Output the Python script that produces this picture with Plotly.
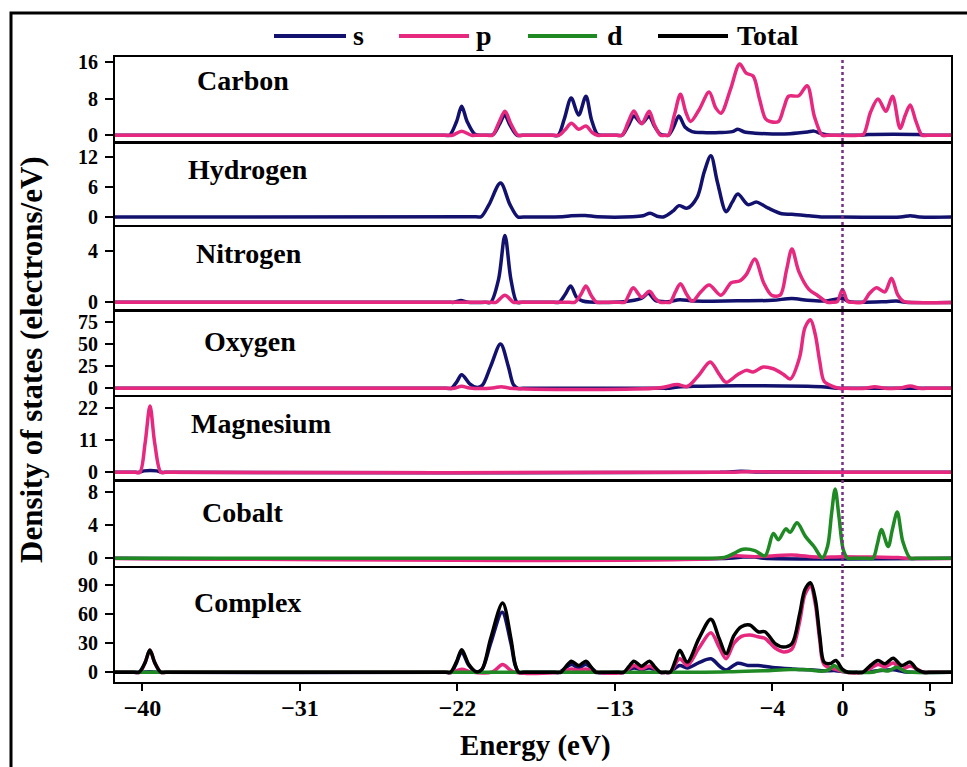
import plotly.graph_objects as go

# ---- colours / fonts -------------------------------------------------------
S_COLOR = "#12126e"
P_COLOR = "#e6287f"
D_COLOR = "#1f8a24"
T_COLOR = "#000000"
FERMI_COLOR = "#7a2f86"
FONT = "Liberation Serif, Times New Roman, Times, serif"

ORBITAL_COLORS = {"s": S_COLOR, "p": P_COLOR, "d": D_COLOR, "Total": T_COLOR}

# ---- axis ticks ------------------------------------------------------------
energy_ticks = [-40, -31, -22, -13, -4, 0, 5]
energy_range = [-41.57, 6.2]

# ---- partial density of states: (energy eV, DOS electrons/eV) ---------------
carbon_s = [(-42, 0), (-22.75, 0), (-22.45, 0), (-22.05, 3.0), (-21.76, 6.3), (-21.45, 3.0),
            (-21.0, 0.2), (-20.6, 0), (-20.25, 0), (-19.95, 0.2), (-19.6, 2.4), (-19.3, 4.4),
            (-19.0, 2.2), (-18.6, 0), (-18.3, 0), (-16.6, 0), (-16.25, 0), (-15.9, 3.5),
            (-15.5, 8.1), (-15.08, 4.4), (-14.66, 8.5), (-14.35, 3.5), (-14.0, 0.2), (-13.7, 0),
            (-12.9, 0), (-12.6, 0), (-12.2, 2.4), (-11.92, 4.2), (-11.48, 2.6), (-11.05, 4.1),
            (-10.75, 2.0), (-10.4, 0.2), (-10.1, 0), (-9.95, 0), (-9.65, 1.8), (-9.35, 4.2),
            (-9.0, 1.8), (-8.6, 0.8), (-8.0, 0.6), (-7.0, 0.6), (-6.3, 0.8), (-5.98, 1.3),
            (-5.6, 0.7), (-5.0, 0.45), (-4.0, 0.3), (-3.0, 0.35), (-2.0, 0.7), (-1.63, 0.9),
            (-1.25, 0.4), (-0.8, 0.05), (-0.4, 0), (0.9, 0), (1.2, 0.05), (1.5, 0.15),
            (4.3, 0.15), (4.6, 0.05), (4.9, 0), (6.5, 0)]
carbon_p = [(-42, 0), (-22.6, 0), (-22.3, 0), (-21.76, 0.9), (-21.2, 0), (-20.9, 0), (-20.3, 0),
            (-20.0, 0), (-19.65, 2.6), (-19.29, 5.2), (-18.95, 2.5), (-18.55, 0), (-18.25, 0),
            (-16.5, 0), (-16.2, 0), (-15.85, 1.2), (-15.49, 2.6), (-15.08, 1.3), (-14.66, 2.0),
            (-14.3, 0.6), (-14.0, 0), (-13.7, 0), (-12.9, 0), (-12.6, 0), (-12.25, 2.8),
            (-11.92, 5.3), (-11.48, 2.5), (-11.05, 5.2), (-10.75, 2.3), (-10.4, 0), (-10.15, 0),
            (-9.95, 0), (-9.6, 4.5), (-9.26, 8.9), (-8.95, 5.0), (-8.68, 3.0), (-8.2, 5.5),
            (-7.62, 9.4), (-7.25, 6.0), (-6.94, 4.8), (-6.4, 10.0), (-5.88, 15.5), (-5.5, 13.5),
            (-5.11, 12.9), (-4.75, 8.0), (-4.4, 3.6), (-4.14, 3.0), (-3.66, 3.0), (-3.35, 6.0),
            (-3.08, 8.5), (-2.5, 8.6), (-2.02, 10.8), (-1.6, 4.0), (-1.15, 0), (-0.85, 0),
            (0.9, 0), (1.2, 0.2), (1.6, 5.0), (2.03, 7.9), (2.48, 5.2), (2.86, 8.5), (3.29, 1.5),
            (3.6, 4.5), (3.87, 6.6), (4.2, 3.0), (4.55, 0), (4.85, 0), (6.5, 0)]

hydrogen_s = [(-42, 0.05), (-20.95, 0.1), (-20.65, 0.1), (-20.2, 2.5), (-19.54, 6.8), (-19.0, 2.5),
              (-18.55, 0.05), (-18.25, 0.05), (-16.0, 0.1), (-15.5, 0.3), (-14.7, 0.35),
              (-14.0, 0.1), (-12.0, 0.1), (-11.4, 0.3), (-10.99, 0.8), (-10.6, 0.2), (-10.2, 0.1),
              (-9.7, 1.2), (-9.35, 2.3), (-8.87, 1.8), (-8.3, 4.0), (-7.9, 9.0), (-7.52, 12.2),
              (-7.15, 7.0), (-6.65, 1.1), (-6.3, 3.0), (-5.98, 4.6), (-5.4, 2.5), (-4.91, 3.0),
              (-4.24, 1.8), (-3.47, 0.7), (-2.89, 0.6), (-1.92, 0.3), (-1.15, 0.05), (-0.8, 0.05),
              (3.3, 0.05), (3.87, 0.3), (4.4, 0.05), (6.5, 0.05)]

nitrogen_s = [(-42, 0), (-22.5, 0), (-22.2, 0), (-21.8, 0.13), (-21.4, 0), (-20.4, 0), (-20.1, 0),
              (-19.65, 1.8), (-19.29, 5.19), (-18.95, 1.8), (-18.6, 0), (-18.3, 0), (-16.5, 0),
              (-16.2, 0), (-15.85, 0.6), (-15.53, 1.26), (-15.2, 0.4), (-14.85, 0.1),
              (-12.5, 0.05), (-11.5, 0.3), (-11.09, 0.7), (-10.7, 0.15), (-10.0, 0.05),
              (-9.3, 0.2), (-8.5, 0.1), (-6.0, 0.12), (-4.0, 0.15), (-2.89, 0.3), (-2.0, 0.15),
              (-1.0, 0.1), (0.0, 0.3), (0.4, 0.05), (2.5, 0.05), (3.09, 0.1), (3.6, 0), (6.5, 0)]
nitrogen_p = [(-42, 0), (-20.1, 0), (-19.8, 0), (-19.29, 0.55), (-18.8, 0), (-18.5, 0),
              (-15.6, 0), (-15.3, 0), (-14.95, 0.6), (-14.66, 1.26), (-14.35, 0.5), (-14.05, 0),
              (-13.75, 0), (-12.75, 0), (-12.45, 0), (-12.2, 0.6), (-11.96, 1.13), (-11.48, 0.4),
              (-11.03, 0.86), (-10.7, 0.3), (-10.4, 0), (-10.1, 0), (-9.85, 0), (-9.55, 0.8),
              (-9.26, 1.44), (-8.9, 0.6), (-8.58, 0.08), (-8.1, 0.8), (-7.62, 1.34),
              (-6.94, 0.55), (-6.36, 1.52), (-5.88, 1.65), (-5.49, 2.17), (-5.01, 3.35),
              (-4.5, 1.5), (-4.05, 0.55), (-3.56, 0.55), (-3.2, 2.5), (-2.89, 4.14), (-2.5, 2.4),
              (-1.92, 1.0), (-1.44, 0.55), (-0.86, 0), (-0.6, 0), (-0.3, 0.05), (0.0, 1.0),
              (0.3, 0.05), (0.6, 0), (1.16, 0), (1.55, 0.7), (1.94, 1.13), (2.42, 0.81),
              (2.80, 1.86), (3.15, 0.6), (3.48, 0.08), (3.8, 0), (6.5, 0)]

oxygen_s = [(-42, 0), (-22.65, 0), (-22.35, 0), (-22.05, 7), (-21.76, 15.2), (-21.3, 5),
            (-20.93, 1.1), (-20.6, 3), (-20.1, 25), (-19.54, 49.8), (-19.1, 25), (-18.8, 4),
            (-18.55, 0), (-18.25, 0), (-10.3, 0), (-10.0, 0), (-9.4, 1.5), (-8.5, 2.3),
            (-6.0, 3.0), (-4.5, 3.0), (-2.0, 2.3), (-1.0, 1.5), (-0.2, 0), (0.2, 0), (6.5, 0)]
oxygen_p = [(-42, 0), (-22.5, 0), (-22.2, 0), (-21.76, 2.3), (-21.3, 0.3), (-20.0, 0.3),
            (-19.5, 1.9), (-19.0, 0.2), (-10.5, 0.3), (-9.45, 4.2), (-8.87, 2.0), (-8.2, 15.0),
            (-7.56, 29.7), (-7.05, 16.0), (-6.65, 6.8), (-5.98, 15.6), (-5.49, 20.2),
            (-5.11, 18.3), (-4.53, 24.0), (-3.95, 22.0), (-3.37, 15.6), (-2.98, 10.6),
            (-2.45, 35), (-2.15, 68), (-1.83, 77.2), (-1.55, 60), (-1.3, 30), (-1.05, 8),
            (-0.6, 2.5), (-0.19, 0), (0.2, 0), (1.3, 0), (1.84, 1.9), (2.4, 0.2), (3.3, 0.3),
            (3.87, 2.7), (4.4, 0), (4.8, 0), (6.5, 0)]

magnesium_s = [(-42, 0), (-40.5, 0), (-40.2, 0), (-39.9, 0.5), (-39.2, 0.5), (-38.9, 0),
               (-38.6, 0), (-7.0, 0), (-5.8, 0.35), (-5.0, 0.15), (-3.0, 0.1), (-1.0, 0), (6.5, 0)]
magnesium_p = [(-42, 0), (-40.45, 0), (-40.15, 0), (-39.85, 10), (-39.57, 22.8), (-39.3, 10),
               (-38.95, 0), (-38.65, 0), (-6.5, 0), (-5.5, 0.2), (-3.0, 0.1), (-1.0, 0), (6.5, 0)]

cobalt_s = [(-42, 0), (-6.5, 0), (-5.7, 0.15), (-5.0, 0.15), (-4.5, 0), (6.5, 0)]
cobalt_p = [(-42, 0), (-7.0, 0), (-6.17, 0.3), (-5.0, 0.2), (-2.89, 0.4), (-1.5, 0.15),
            (0.0, 0.2), (1.8, 0.15), (3.2, 0.1), (3.8, 0), (6.5, 0)]
cobalt_d = [(-42, 0), (-20, 0.02), (-8.7, 0.02), (-6.75, 0.12), (-6.2, 0.6), (-5.69, 1.1),
            (-5.01, 0.94), (-4.43, 0.3), (-3.95, 3.0), (-3.66, 2.25), (-3.24, 3.57),
            (-2.99, 3.16), (-2.6, 4.3), (-2.12, 2.66), (-1.63, 1.43), (-1.15, 0.05),
            (-0.85, 1.5), (-0.62, 5.5), (-0.42, 8.4), (-0.2, 5.0), (0.05, 1.0), (0.3, 0),
            (0.6, 0), (1.45, 0), (1.74, 0), (2.0, 1.8), (2.22, 3.48), (2.61, 1.43), (2.85, 3.5),
            (3.13, 5.6), (3.45, 2.0), (3.87, 0), (4.2, 0), (6.5, 0)]

complex_s = [(-42, 0), (-40.4, 0), (-40.1, 0), (-39.6, 0.5), (-39.0, 0), (-22.65, 0), (-22.35, 0),
             (-22.05, 10), (-21.76, 21), (-21.35, 7), (-20.93, 0.5), (-20.6, 3), (-20.1, 30),
             (-19.45, 62), (-18.95, 30), (-18.7, 7), (-18.5, 0), (-18.2, 0), (-16.5, 0),
             (-16.2, 0), (-15.49, 8), (-15.08, 4.5), (-14.66, 8), (-14.0, 0), (-12.8, 0),
             (-12.5, 0), (-11.92, 4.5), (-11.48, 2.8), (-11.03, 4.5), (-10.4, 0), (-10.15, 0),
             (-9.9, 0), (-9.3, 7), (-8.87, 4.5), (-8.2, 10), (-7.52, 13.9), (-7.0, 6),
             (-6.65, 2.4), (-5.98, 9.4), (-5.4, 7), (-4.82, 7), (-4.0, 5), (-2.89, 3.5),
             (-1.83, 2.5), (-1.0, 1.5), (-0.4, 1.7), (0.2, 0.3), (1.2, 0), (2.0, 1.5), (2.9, 2.5),
             (3.5, 0.5), (4.2, 0), (6.5, 0)]
complex_p = [(-42, 0), (-40.45, 0), (-40.15, 0), (-39.85, 10), (-39.57, 22.8), (-39.3, 10),
             (-38.95, 0), (-38.65, 0), (-22.6, 0), (-22.3, 0), (-21.76, 3.2), (-21.2, 0.3),
             (-20.0, 0.5), (-19.42, 8.0), (-18.8, 0.5), (-16.2, 0), (-15.49, 3.5), (-15.08, 2),
             (-14.66, 3.5), (-14.0, 0), (-12.5, 0), (-11.92, 7), (-11.48, 3.5), (-11.03, 6.5),
             (-10.4, 0), (-10.1, 0), (-9.85, 0), (-9.3, 14), (-8.87, 7), (-8.2, 25),
             (-7.52, 40.8), (-7.05, 26), (-6.65, 14), (-6.2, 30), (-5.78, 37), (-5.3, 38.5),
             (-4.82, 36.6), (-4.43, 35), (-3.85, 25), (-3.37, 21), (-2.89, 24), (-2.45, 52),
             (-2.15, 80), (-1.83, 88.8), (-1.55, 70), (-1.3, 33), (-1.05, 8), (-0.38, 3),
             (0.2, 0), (1.16, 0), (2.03, 8), (2.42, 5.5), (2.9, 9.5), (3.38, 3), (3.87, 6.6),
             (4.6, 0), (4.9, 0), (6.5, 0)]
complex_d = [(-42, 0), (-8.5, 0), (-6.5, 0.5), (-5.5, 1.2), (-4.5, 1.5), (-3.0, 2.8),
             (-2.0, 2.5), (-1.2, 1.0), (-0.8, 2.5), (-0.48, 7), (-0.15, 3), (0.2, 0.3), (0.5, 0),
             (1.7, 0), (2.2, 2.4), (2.6, 1.4), (3.1, 5.2), (3.6, 0.8), (4.0, 0), (6.5, 0)]
complex_total = [(-42, 0), (-40.5, 0), (-40.2, 0), (-39.85, 10), (-39.58, 23), (-39.3, 10),
                 (-38.95, 0), (-38.65, 0), (-22.7, 0), (-22.4, 0), (-22.05, 11), (-21.76, 23.3),
                 (-21.35, 8), (-20.93, 0.5), (-20.6, 3), (-20.1, 35), (-19.42, 71.4),
                 (-18.95, 35), (-18.7, 8), (-18.5, 0), (-18.2, 0), (-16.4, 0), (-16.1, 0),
                 (-15.8, 6), (-15.49, 11.5), (-15.08, 7), (-14.66, 11.5), (-14.35, 5),
                 (-14.1, 0), (-13.8, 0), (-12.8, 0), (-12.5, 0), (-12.2, 6), (-11.92, 11.5),
                 (-11.48, 6.3), (-11.03, 11.5), (-10.7, 5), (-10.4, 0), (-10.1, 0), (-9.85, 0),
                 (-9.55, 12), (-9.3, 22.6), (-8.87, 10.5), (-8.2, 35), (-7.52, 54.7),
                 (-7.05, 35), (-6.65, 19.2), (-6.2, 38), (-5.78, 47), (-5.3, 48.8),
                 (-4.82, 41.8), (-4.43, 41.8), (-3.85, 29.6), (-3.37, 26.1), (-2.89, 29.6),
                 (-2.45, 60), (-2.15, 85), (-1.83, 92.3), (-1.55, 75), (-1.3, 38), (-1.05, 10.5),
                 (-0.7, 9), (-0.38, 12.2), (0.0, 3), (0.3, 0), (0.8, 0), (1.16, 0), (1.6, 7),
                 (2.03, 12.2), (2.42, 8.7), (2.9, 14.6), (3.38, 7), (3.87, 10.5), (4.25, 3),
                 (4.64, 0), (4.95, 0), (6.5, 0)]

# ---- panel definitions: label, series, y range, y ticks -----------------------
panels = [
    ("Carbon", [("s", carbon_s), ("p", carbon_p)], [-1.14, 17.03], [0, 8, 16]),
    ("Hydrogen", [("s", hydrogen_s)], [-1.47, 14.61], [0, 6, 12]),
    ("Nitrogen", [("s", nitrogen_s), ("p", nitrogen_p)], [-0.52, 5.84], [0, 4]),
    ("Oxygen", [("s", oxygen_s), ("p", oxygen_p)], [-7.5, 86.2], [0, 25, 50, 75]),
    ("Magnesium", [("s", magnesium_s), ("p", magnesium_p)], [-2.3, 25.9], [0, 11, 22]),
    ("Cobalt", [("s", cobalt_s), ("p", cobalt_p), ("d", cobalt_d)], [-0.93, 9.31], [0, 4, 8]),
    ("Complex", [("s", complex_s), ("p", complex_p), ("d", complex_d), ("Total", complex_total)],
     [-10.0, 107.5], [0, 30, 60, 90]),
]

# ---- page geometry (pixels) ---------------------------------------------------
W_FIG, H_FIG = 967, 767
M_L, M_R, M_T, M_B = 115, 16, 57, 85
PLOT_W = W_FIG - M_L - M_R
PLOT_H = H_FIG - M_T - M_B
PLOT_BOTTOM = H_FIG - M_B


def xp(px):
    return (px - M_L) / PLOT_W


def yp(py):
    return (PLOT_BOTTOM - py) / PLOT_H


panel_edges = [(57, 140.5), (143.5, 224.7), (227, 309), (311.7, 395), (397, 479),
               (481.5, 566), (568, 682)]
label_pos = [(243, 80), (248, 170), (249, 253), (250, 341), (261, 423), (243, 512), (247, 602)]

fig = go.Figure()
n = len(panels)
axis_font = dict(family=FONT, size=20, color="black", weight="bold")

for i, (name, series, yrange, yticks) in enumerate(panels):
    k = i + 1
    xa = "x" if k == 1 else f"x{k}"
    ya = "y" if k == 1 else f"y{k}"
    for orb, pts in series:
        fig.add_trace(go.Scatter(
            x=[p[0] for p in pts], y=[p[1] for p in pts],
            mode="lines", line=dict(color=ORBITAL_COLORS[orb], width=3.5, shape="spline",
                                    smoothing=0.9),
            xaxis=xa, yaxis=ya, showlegend=False, hoverinfo="skip"))
    top, bottom = panel_edges[i]
    is_bottom = (k == n)
    fig.layout[f"xaxis{'' if k == 1 else k}"] = dict(
        domain=[0, 1], anchor=ya, range=energy_range,
        matches=None if k == n else f"x{n}",
        showline=True, mirror=True, linecolor="black", linewidth=2,
        showgrid=False, zeroline=False,
        tickmode="array", tickvals=energy_ticks,
        ticks="outside" if is_bottom else "", ticklen=7, tickwidth=2, tickcolor="black",
        showticklabels=is_bottom, ticklabelstandoff=-4,
        tickfont=dict(family=FONT, size=24, color="black", weight="bold"))
    fig.layout[f"yaxis{'' if k == 1 else k}"] = dict(
        domain=[max(0, yp(bottom)), min(1, yp(top))], anchor=xa, range=yrange,
        showline=True, mirror=True, linecolor="black", linewidth=2,
        showgrid=False, zeroline=False,
        tickmode="array", tickvals=yticks,
        ticks="outside", ticklen=8, tickwidth=2, tickcolor="black",
        tickfont=axis_font, ticklabelstandoff=3)
    lx, ly = label_pos[i]
    fig.add_annotation(text=name, xref="paper", yref="paper", x=xp(lx), y=yp(ly),
                       xanchor="center", yanchor="middle", showarrow=False,
                       font=dict(family=FONT, size=28, color="black", weight="bold"))

# Fermi level marker
fig.add_shape(type="line", xref=f"x{n}", yref="paper", x0=0, x1=0, y0=yp(657), y1=yp(57),
              line=dict(color=FERMI_COLOR, width=2.5, dash="dot"))

# outer frame
fig.add_shape(type="rect", xref="paper", yref="paper", x0=xp(11), y0=yp(13), x1=xp(990),
              y1=yp(790), line=dict(color="black", width=3), fillcolor="rgba(0,0,0,0)")

# legend row
legend_items = [("s", 274, 346, 351), ("p", 399, 469, 474), ("d", 528, 597, 605),
                ("Total", 658, 728, 735)]
for orb, x0, x1, xt in legend_items:
    fig.add_shape(type="line", xref="paper", yref="paper", x0=xp(x0), x1=xp(x1),
                  y0=yp(36), y1=yp(36), line=dict(color=ORBITAL_COLORS[orb], width=4))
    fig.add_annotation(text=orb, xref="paper", yref="paper", x=xp(xt), y=yp(36),
                       xanchor="left", yanchor="middle", showarrow=False,
                       font=dict(family=FONT, size=28, color="black", weight="bold"))

# axis titles
fig.add_annotation(text="Energy (eV)", xref="paper", yref="paper", x=xp(535), y=yp(745),
                   xanchor="center", yanchor="middle", showarrow=False,
                   font=dict(family=FONT, size=29, color="black", weight="bold"))
fig.add_annotation(text="Density of states (electrons/eV)", xref="paper", yref="paper",
                   x=xp(31), y=yp(360), xanchor="center", yanchor="middle", textangle=-90,
                   showarrow=False,
                   font=dict(family=FONT, size=31, color="black", weight="bold"))

fig.update_layout(width=W_FIG, height=H_FIG, paper_bgcolor="white", plot_bgcolor="white",
                  margin=dict(l=M_L, r=M_R, t=M_T, b=M_B), showlegend=False)

fig.write_html("out.html")
